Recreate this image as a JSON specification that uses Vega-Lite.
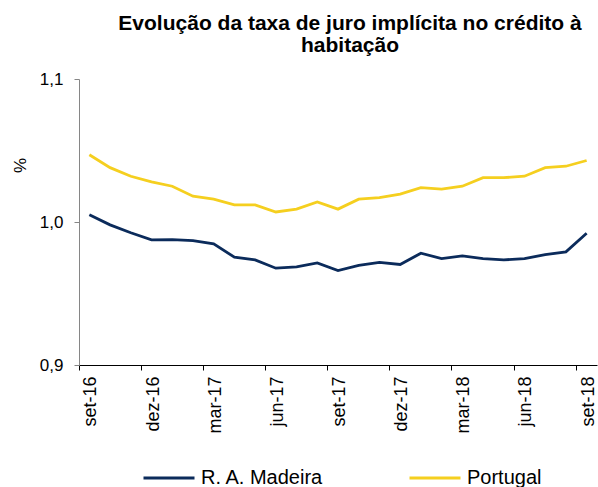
{
  "$schema": "https://vega.github.io/schema/vega-lite/v6.json",
  "width": 518,
  "height": 286,
  "autosize": {"type": "none"},
  "padding": {"left": 79, "top": 79, "right": 1, "bottom": 122},
  "background": "white",
  "config": {
    "font": "Liberation Sans",
    "view": {"stroke": null}
  },
  "title": {
    "text": ["Evolução da taxa de juro implícita no crédito à", "habitação"],
    "fontSize": 21,
    "fontWeight": "bold",
    "font": "Liberation Sans",
    "color": "#000000",
    "anchor": "middle",
    "frame": "group",
    "dx": 12,
    "offset": 14,
    "lineHeight": 22
  },
  "data": {
    "values": [
      {"m": "set-16", "s": "R. A. Madeira", "v": 1.005},
      {"m": "out-16", "s": "R. A. Madeira", "v": 0.998},
      {"m": "nov-16", "s": "R. A. Madeira", "v": 0.9925},
      {"m": "dez-16", "s": "R. A. Madeira", "v": 0.9875},
      {"m": "jan-17", "s": "R. A. Madeira", "v": 0.9877},
      {"m": "fev-17", "s": "R. A. Madeira", "v": 0.987},
      {"m": "mar-17", "s": "R. A. Madeira", "v": 0.9847},
      {"m": "abr-17", "s": "R. A. Madeira", "v": 0.9754},
      {"m": "mai-17", "s": "R. A. Madeira", "v": 0.9735},
      {"m": "jun-17", "s": "R. A. Madeira", "v": 0.9677},
      {"m": "jul-17", "s": "R. A. Madeira", "v": 0.9686},
      {"m": "ago-17", "s": "R. A. Madeira", "v": 0.9714},
      {"m": "set-17", "s": "R. A. Madeira", "v": 0.966},
      {"m": "out-17", "s": "R. A. Madeira", "v": 0.9696},
      {"m": "nov-17", "s": "R. A. Madeira", "v": 0.9717},
      {"m": "dez-17", "s": "R. A. Madeira", "v": 0.9703},
      {"m": "jan-18", "s": "R. A. Madeira", "v": 0.9782},
      {"m": "fev-18", "s": "R. A. Madeira", "v": 0.9744},
      {"m": "mar-18", "s": "R. A. Madeira", "v": 0.9763},
      {"m": "abr-18", "s": "R. A. Madeira", "v": 0.9744},
      {"m": "mai-18", "s": "R. A. Madeira", "v": 0.9735},
      {"m": "jun-18", "s": "R. A. Madeira", "v": 0.9744},
      {"m": "jul-18", "s": "R. A. Madeira", "v": 0.9772},
      {"m": "ago-18", "s": "R. A. Madeira", "v": 0.9791},
      {"m": "set-18", "s": "R. A. Madeira", "v": 0.9921},
      {"m": "set-16", "s": "Portugal", "v": 1.047},
      {"m": "out-16", "s": "Portugal", "v": 1.038},
      {"m": "nov-16", "s": "Portugal", "v": 1.032},
      {"m": "dez-16", "s": "Portugal", "v": 1.028},
      {"m": "jan-17", "s": "Portugal", "v": 1.025},
      {"m": "fev-17", "s": "Portugal", "v": 1.018},
      {"m": "mar-17", "s": "Portugal", "v": 1.016},
      {"m": "abr-17", "s": "Portugal", "v": 1.012},
      {"m": "mai-17", "s": "Portugal", "v": 1.012},
      {"m": "jun-17", "s": "Portugal", "v": 1.007},
      {"m": "jul-17", "s": "Portugal", "v": 1.009},
      {"m": "ago-17", "s": "Portugal", "v": 1.014},
      {"m": "set-17", "s": "Portugal", "v": 1.009},
      {"m": "out-17", "s": "Portugal", "v": 1.016},
      {"m": "nov-17", "s": "Portugal", "v": 1.017},
      {"m": "dez-17", "s": "Portugal", "v": 1.0195},
      {"m": "jan-18", "s": "Portugal", "v": 1.024},
      {"m": "fev-18", "s": "Portugal", "v": 1.023},
      {"m": "mar-18", "s": "Portugal", "v": 1.025},
      {"m": "abr-18", "s": "Portugal", "v": 1.031},
      {"m": "mai-18", "s": "Portugal", "v": 1.031},
      {"m": "jun-18", "s": "Portugal", "v": 1.032},
      {"m": "jul-18", "s": "Portugal", "v": 1.038},
      {"m": "ago-18", "s": "Portugal", "v": 1.039},
      {"m": "set-18", "s": "Portugal", "v": 1.043}
    ]
  },
  "mark": {"type": "line", "strokeWidth": 2.8},
  "encoding": {
    "x": {
      "field": "m",
      "type": "ordinal",
      "sort": null,
      "scale": {"type": "band", "paddingInner": 0, "paddingOuter": 0},
      "axis": {
        "title": null,
        "values": ["set-16", "dez-16", "mar-17", "jun-17", "set-17", "dez-17", "mar-18", "jun-18", "set-18"],
        "bandPosition": 0,
        "labelOffset": 2,
        "labelAngle": -90,
        "labelFontSize": 18,
        "labelColor": "#000000",
        "labelPadding": 6,
        "tickSize": 5,
        "tickColor": "#000000",
        "domainColor": "#000000",
        "grid": false
      }
    },
    "y": {
      "field": "v",
      "type": "quantitative",
      "scale": {"domain": [0.9, 1.1], "nice": false, "zero": false},
      "axis": {
        "title": "%",
        "titleFontSize": 17,
        "titleFontWeight": "normal",
        "titleColor": "#000000",
        "titleX": -59,
        "titleY": 86,
        "titleAngle": -90,
        "titleAlign": "center",
        "titleBaseline": "middle",
        "values": [0.9, 1.0, 1.1],
        "labelExpr": "replace(format(datum.value, '.1f'), '.', ',')",
        "labelFontSize": 17,
        "labelColor": "#000000",
        "labelPadding": 11,
        "tickSize": 5,
        "tickColor": "#868686",
        "domainColor": "#868686",
        "grid": false
      }
    },
    "color": {
      "field": "s",
      "type": "nominal",
      "scale": {"domain": ["R. A. Madeira", "Portugal"], "range": ["#0b2b5b", "#f5cf1f"]},
      "legend": {
        "title": null,
        "orient": "none",
        "legendX": 63,
        "legendY": 372,
        "direction": "horizontal",
        "columns": 2,
        "columnPadding": 79,
        "symbolType": "stroke",
        "symbolSize": 2601,
        "symbolStrokeWidth": 3,
        "labelFontSize": 20,
        "labelColor": "#000000",
        "labelOffset": 5,
        "labelLimit": 300
      }
    }
  }
}
